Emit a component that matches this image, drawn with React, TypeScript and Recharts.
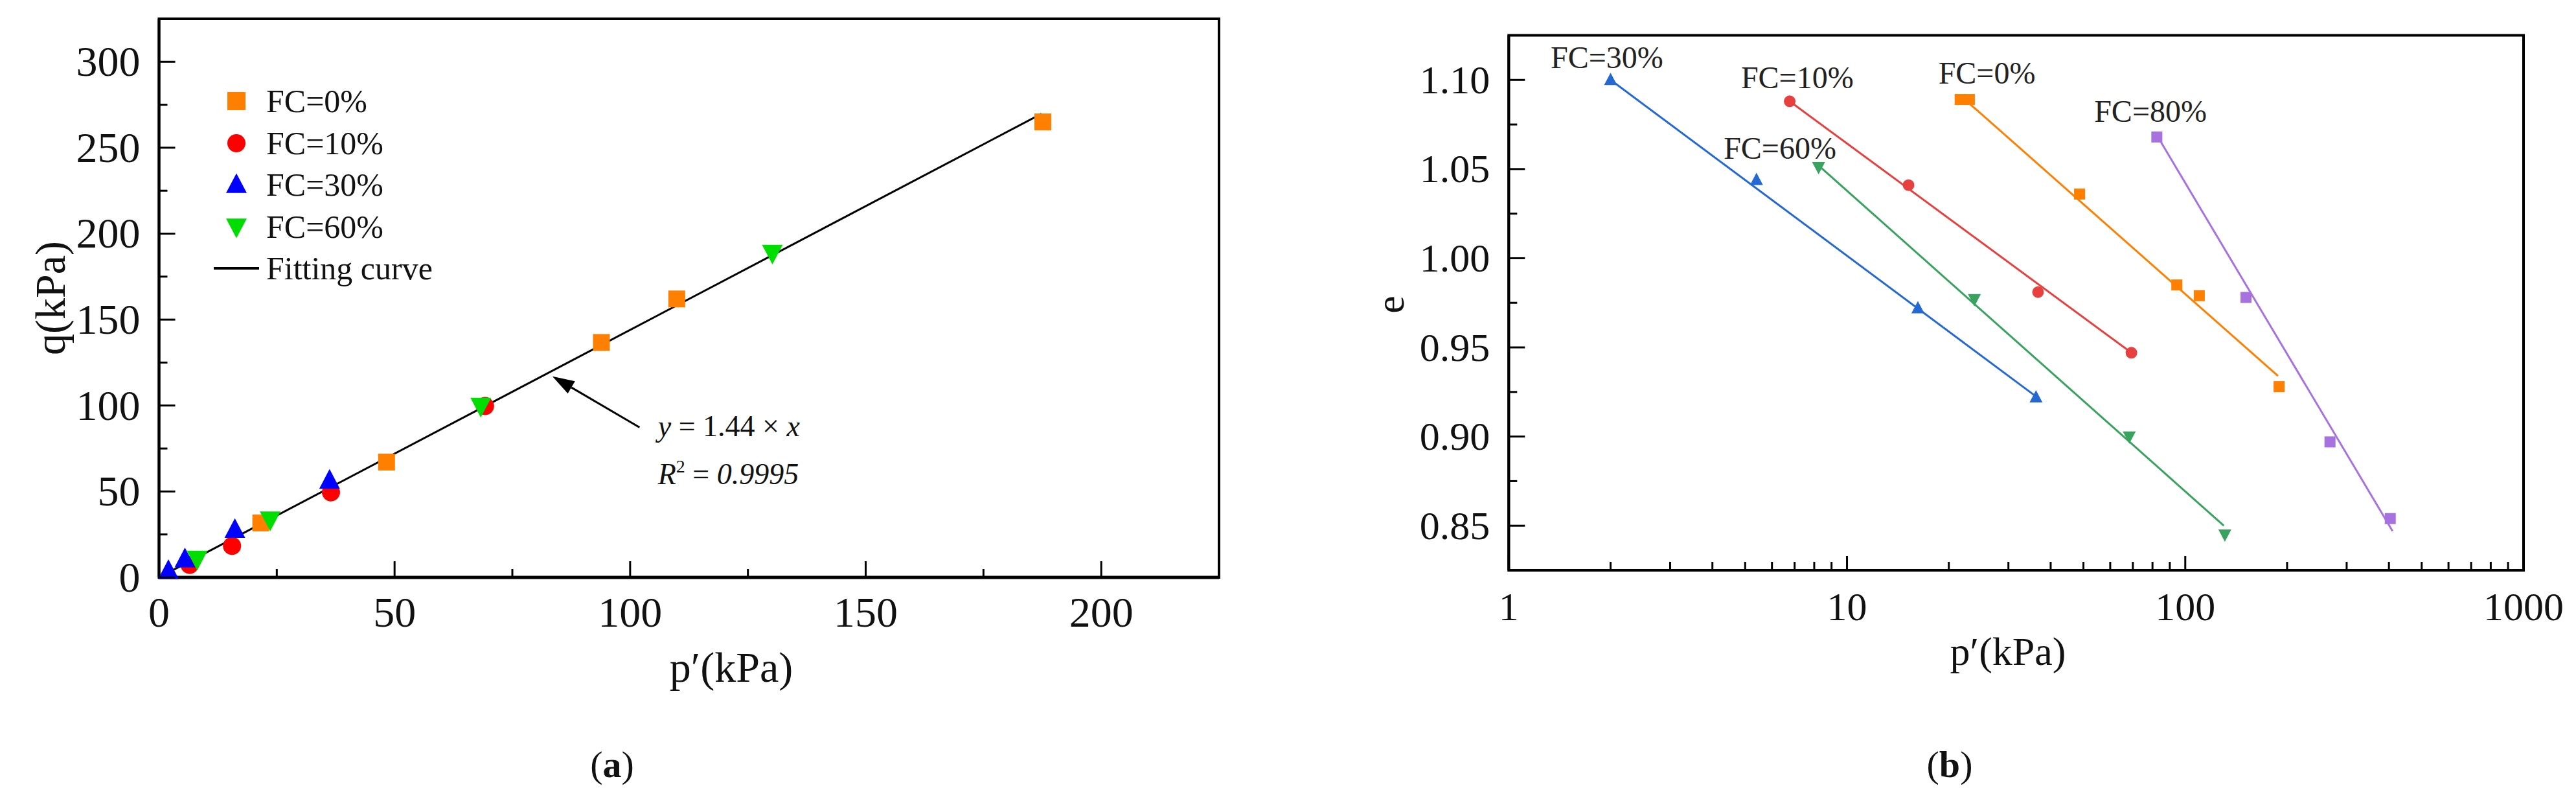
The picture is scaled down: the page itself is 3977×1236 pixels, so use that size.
import React from 'react';
import {
  ScatterChart,
  Scatter,
  XAxis,
  YAxis,
  ReferenceArea,
  ReferenceLine,
  ReferenceDot,
  Legend,
} from 'recharts';

const SERIF = "'Liberation Serif', 'Times New Roman', serif";

// ---- panel (a): q vs p'
const fc0A = [
  { p: 21.6, q: 31.7 },
  { p: 48.3, q: 67.1 },
  { p: 93.9, q: 136.7 },
  { p: 109.9, q: 162 },
  { p: 187.6, q: 265 },
];
const fc10A = [
  { p: 6.5, q: 7.3 },
  { p: 15.5, q: 18.3 },
  { p: 36.5, q: 49.5 },
  { p: 69.2, q: 99.7 },
];
const fc30A = [
  { p: 2, q: 3.9 },
  { p: 5.5, q: 10.7 },
  { p: 16.1, q: 27.8 },
  { p: 36.2, q: 56.4 },
];
const fc60A = [
  { p: 8.1, q: 10.7 },
  { p: 23.6, q: 33.5 },
  { p: 68.3, q: 99.7 },
  { p: 130.2, q: 188.7 },
];
const fitA = [
  { p: 2, q: 2.9 },
  { p: 187.3, q: 269.7 },
];
const ticksAX = [0, 25, 50, 75, 100, 125, 150, 175, 200];
const majorAX = [0, 50, 100, 150, 200];
const ticksAY = [0, 25, 50, 75, 100, 125, 150, 175, 200, 225, 250, 275, 300];
const majorAY = [0, 50, 100, 150, 200, 250, 300];

// ---- panel (b): e vs log p'
const fc0B = [
  { p: 21.6, e: 1.089 },
  { p: 23, e: 1.089 },
  { p: 48.7, e: 1.036 },
  { p: 94.4, e: 0.985 },
  { p: 110, e: 0.979 },
  { p: 189.4, e: 0.928 },
];
const fit0B = [{ p: 22, e: 1.09 }, { p: 188, e: 0.934 }];
const fc10B = [
  { p: 6.77, e: 1.088 },
  { p: 15.2, e: 1.041 },
  { p: 36.7, e: 0.981 },
  { p: 69.3, e: 0.947 },
];
const fit10B = [{ p: 6.77, e: 1.088 }, { p: 69.3, e: 0.947 }];
const fc30B = [
  { p: 2, e: 1.1 },
  { p: 5.4, e: 1.044 },
  { p: 16.2, e: 0.972 },
  { p: 36.2, e: 0.922 },
];
const fit30B = [{ p: 2, e: 1.1 }, { p: 36.5, e: 0.922 }];
const fc60B = [
  { p: 8.24, e: 1.051 },
  { p: 23.8, e: 0.977 },
  { p: 68.3, e: 0.9 },
  { p: 130.9, e: 0.845 },
];
const fit60B = [{ p: 8.24, e: 1.052 }, { p: 130, e: 0.85 }];
const fc80B = [
  { p: 82.4, e: 1.068 },
  { p: 151.2, e: 0.978 },
  { p: 267.8, e: 0.897 },
  { p: 403.6, e: 0.854 },
];
const fit80B = [{ p: 82.4, e: 1.069 }, { p: 410, e: 0.847 }];

const ticksBX = [
  1, 2, 3, 4, 5, 6, 7, 8, 9, 10, 20, 30, 40, 50, 60, 70, 80, 90, 100, 200, 300, 400, 500, 600, 700, 800,
  900, 1000,
];
const majorBX = [1, 10, 100, 1000];
const ticksBY = [0.85, 0.875, 0.9, 0.925, 0.95, 0.975, 1.0, 1.025, 1.05, 1.075, 1.1];
const majorBY = [0.85, 0.9, 0.95, 1.0, 1.05, 1.1];

// series labels placed next to the curves in (b)
const labelsB = [
  { text: 'FC=30%', p: 1.33, e: 1.1066 },
  { text: 'FC=10%', p: 4.86, e: 1.0953 },
  { text: 'FC=60%', p: 4.32, e: 1.0557 },
  { text: 'FC=0%', p: 18.63, e: 1.0979 },
  { text: 'FC=80%', p: 53.8, e: 1.0765 },
];

const seriesA = [
  { name: 'FC=0%', data: fc0A, color: '#FF7F00', kind: 'square', size: 26 },
  { name: 'FC=10%', data: fc10A, color: '#FF0000', kind: 'circle', size: 28 },
  { name: 'FC=30%', data: fc30A, color: '#0000FF', kind: 'up', size: 32 },
  { name: 'FC=60%', data: fc60A, color: '#00DD00', kind: 'down', size: 32 },
];

const seriesB = [
  { data: fc0B, fit: fit0B, color: '#FF8000', kind: 'square', size: 17 },
  { data: fc10B, fit: fit10B, color: '#E8403F', kind: 'circle', size: 18 },
  { data: fc30B, fit: fit30B, color: '#2469D3', kind: 'up', size: 20 },
  { data: fc60B, fit: fit60B, color: '#38A35E', kind: 'down', size: 20 },
  { data: fc80B, fit: fit80B, color: '#A772E0', kind: 'square', size: 17 },
];

const Marker = ({ kind, cx, cy, s, color }: any) => {
  if (kind === 'square') return <rect x={cx - s / 2} y={cy - s / 2} width={s} height={s} fill={color} />;
  if (kind === 'circle') return <circle cx={cx} cy={cy} r={s / 2} fill={color} />;
  if (kind === 'up')
    return (
      <polygon
        points={`${cx},${cy - s * 0.55} ${cx + s / 2},${cy + s * 0.4} ${cx - s / 2},${cy + s * 0.4}`}
        fill={color}
      />
    );
  return (
    <polygon
      points={`${cx - s / 2},${cy - s * 0.4} ${cx + s / 2},${cy - s * 0.4} ${cx},${cy + s * 0.55}`}
      fill={color}
    />
  );
};

const Empty = () => <g />;

const BottomTick = (props: any) => {
  const { x, y, payload, majors, fontSize, labelDy, majorLen, minorLen } = props;
  const isMajor = majors.some((m: number) => Math.abs(m - payload.value) < 1e-9);
  return (
    <g>
      <line x1={x} x2={x} y1={y} y2={y - (isMajor ? majorLen : minorLen)} stroke="#000" strokeWidth={3} />
      {isMajor && (
        <text x={x} y={y + labelDy} textAnchor="middle" fontSize={fontSize} fontFamily={SERIF} fill="#111">
          {payload.value}
        </text>
      )}
    </g>
  );
};

const LeftTick = (props: any) => {
  const { x, y, payload, majors, fontSize, gap, majorLen, minorLen, digits } = props;
  const isMajor = majors.some((m: number) => Math.abs(m - payload.value) < 1e-9);
  return (
    <g>
      <line x1={x} x2={x + (isMajor ? majorLen : minorLen)} y1={y} y2={y} stroke="#000" strokeWidth={3} />
      {isMajor && (
        <text
          x={x - gap}
          y={y + fontSize * 0.33}
          textAnchor="end"
          fontSize={fontSize}
          fontFamily={SERIF}
          fill="#111"
        >
          {digits ? Number(payload.value).toFixed(digits) : payload.value}
        </text>
      )}
    </g>
  );
};

const Arrow = (props: any) => {
  const { x1, y1, x2, y2 } = props;
  const ang = Math.atan2(y2 - y1, x2 - x1);
  const len = 34;
  const half = 11;
  const bx = x2 - len * Math.cos(ang);
  const by = y2 - len * Math.sin(ang);
  const px = -Math.sin(ang) * half;
  const py = Math.cos(ang) * half;
  return (
    <g>
      <line x1={x1} y1={y1} x2={bx} y2={by} stroke="#000" strokeWidth={3} />
      <polygon points={`${x2},${y2} ${bx + px},${by + py} ${bx - px},${by - py}`} fill="#000" />
    </g>
  );
};

const Equation = (props: any) => {
  const { cx, cy } = props;
  return (
    <text x={cx} y={cy} fontSize={46} fontFamily={SERIF} fill="#111">
      <tspan fontStyle="italic">y</tspan>
      <tspan> = 1.44 × </tspan>
      <tspan fontStyle="italic">x</tspan>
      <tspan x={cx} dy={74} fontStyle="italic">R</tspan>
      <tspan dy={-18} fontSize={28}>2</tspan>
      <tspan dy={18}> = </tspan>
      <tspan fontStyle="italic">0.9995</tspan>
    </text>
  );
};

const LegendA = () => (
  <div style={{ fontFamily: SERIF, fontSize: 50, color: '#111' }}>
    {seriesA.map((s) => (
      <div key={s.name} style={{ display: 'flex', alignItems: 'center', height: 64.5 }}>
        <svg width={91} height={64} style={{ display: 'block' }}>
          <Marker kind={s.kind} cx={45} cy={32} s={s.kind === 'square' ? 28 : s.size} color={s.color} />
        </svg>
        <span style={{ lineHeight: 1 }}>{s.name}</span>
      </div>
    ))}
    <div style={{ display: 'flex', alignItems: 'center', height: 64.5 }}>
      <svg width={91} height={64} style={{ display: 'block' }}>
        <line x1={10} x2={80} y1={32} y2={32} stroke="#000" strokeWidth={4} />
      </svg>
      <span style={{ lineHeight: 1 }}>Fitting curve</span>
    </div>
  </div>
);

const ChartA = () => (
  <ScatterChart width={1990} height={1236} margin={{ top: 29, right: 108, bottom: 344, left: 244.5 }}>
    <XAxis
      type="number"
      dataKey="p"
      domain={[0, 225]}
      ticks={ticksAX}
      interval={0}
      height={1}
      tickSize={0}
      tickMargin={0}
      tickLine={false}
      axisLine={{ stroke: '#000', strokeWidth: 5 }}
      tick={(p: any) => (
        <BottomTick {...p} majors={majorAX} fontSize={66} labelDy={76} majorLen={25} minorLen={13} />
      )}
    />
    <YAxis
      type="number"
      dataKey="q"
      domain={[0, 325]}
      ticks={ticksAY}
      interval={0}
      width={1}
      tickSize={0}
      tickMargin={0}
      tickLine={false}
      axisLine={{ stroke: '#000', strokeWidth: 4 }}
      tick={(p: any) => <LeftTick {...p} majors={majorAY} fontSize={66} gap={29} majorLen={25} minorLen={13} />}
    />
    <ReferenceArea x1={0} x2={225} y1={0} y2={325} fill="none" stroke="#000" strokeWidth={4} ifOverflow="visible" />
    <Scatter
      data={fitA}
      line={{ stroke: '#000', strokeWidth: 3 }}
      shape={Empty}
      legendType="none"
      isAnimationActive={false}
    />
    {seriesA.map((s) => (
      <Scatter
        key={s.name}
        name={s.name}
        data={s.data}
        isAnimationActive={false}
        shape={(p: any) => <Marker kind={s.kind} cx={p.cx} cy={p.cy} s={s.size} color={s.color} />}
      />
    ))}
    <ReferenceLine
      segment={[
        { x: 102, y: 87.3 },
        { x: 83.5, y: 117 },
      ]}
      shape={Arrow}
      ifOverflow="visible"
    />
    <ReferenceDot x={105.9} y={82.3} r={0} shape={Equation} ifOverflow="visible" />
    <Legend
      layout="vertical"
      align="center"
      verticalAlign="middle"
      content={LegendA}
      wrapperStyle={{ left: 320, top: 124, width: 420 }}
    />
  </ScatterChart>
);

const ChartB = () => (
  <ScatterChart width={1987} height={1236} margin={{ top: 54.5, right: 81, bottom: 355, left: 338.3 }}>
    <XAxis
      type="number"
      dataKey="p"
      scale="log"
      domain={[1, 1000]}
      allowDataOverflow
      ticks={ticksBX}
      interval={0}
      height={1}
      tickSize={0}
      tickMargin={0}
      tickLine={false}
      axisLine={{ stroke: '#000', strokeWidth: 4 }}
      tick={(p: any) => (
        <BottomTick {...p} majors={majorBX} fontSize={62} labelDy={77} majorLen={22} minorLen={13} />
      )}
    />
    <YAxis
      type="number"
      dataKey="e"
      domain={[0.825, 1.125]}
      allowDataOverflow
      ticks={ticksBY}
      interval={0}
      width={1}
      tickSize={0}
      tickMargin={0}
      tickLine={false}
      axisLine={{ stroke: '#000', strokeWidth: 4 }}
      tick={(p: any) => (
        <LeftTick {...p} majors={majorBY} fontSize={62} gap={29} majorLen={25} minorLen={13} digits={2} />
      )}
    />
    <ReferenceArea x1={1} x2={1000} y1={0.825} y2={1.125} fill="none" stroke="#000" strokeWidth={4} ifOverflow="visible" />
    {seriesB.map((s, i) => (
      <Scatter
        key={'fit' + i}
        data={s.fit}
        line={{ stroke: s.color, strokeWidth: 3 }}
        shape={Empty}
        legendType="none"
        isAnimationActive={false}
      />
    ))}
    {seriesB.map((s, i) => (
      <Scatter
        key={'pts' + i}
        data={s.data}
        isAnimationActive={false}
        shape={(p: any) => <Marker kind={s.kind} cx={p.cx} cy={p.cy} s={s.size} color={s.color} />}
      />
    ))}
    {labelsB.map((l) => (
      <ReferenceDot
        key={l.text}
        x={l.p}
        y={l.e}
        r={0}
        ifOverflow="visible"
        shape={(p: any) => (
          <text x={p.cx} y={p.cy} fontSize={48} fontFamily={SERIF} fill="#222">
            {l.text}
          </text>
        )}
      />
    ))}
  </ScatterChart>
);

const Txt = ({ x, y, size, rotate, children }: any) => (
  <div
    style={{
      position: 'absolute',
      left: x,
      top: y,
      transform: `translate(-50%, -50%)${rotate ? ' rotate(-90deg)' : ''}`,
      fontFamily: SERIF,
      fontSize: size,
      lineHeight: 1,
      whiteSpace: 'nowrap',
      color: '#111',
    }}
  >
    {children}
  </div>
);

export default function App() {
  return (
    <div
      style={{
        position: 'absolute',
        left: 0,
        top: 0,
        width: 3977,
        height: 1236,
        background: '#fff',
        overflow: 'hidden',
        fontFamily: SERIF,
      }}
    >
      <div style={{ position: 'absolute', left: 0, top: 0 }}>
        <ChartA />
      </div>
      <div style={{ position: 'absolute', left: 1990, top: 0 }}>
        <ChartB />
      </div>
      <Txt x={78} y={460} size={66} rotate>
        q(kPa)
      </Txt>
      <Txt x={1129} y={1030} size={66}>
        p′(kPa)
      </Txt>
      <Txt x={945} y={1180} size={58}>
        (<b>a</b>)
      </Txt>
      <Txt x={2146} y={470} size={62} rotate>
        e
      </Txt>
      <Txt x={3100} y={1005} size={62}>
        p′(kPa)
      </Txt>
      <Txt x={3010} y={1180} size={58}>
        (<b>b</b>)
      </Txt>
    </div>
  );
}
